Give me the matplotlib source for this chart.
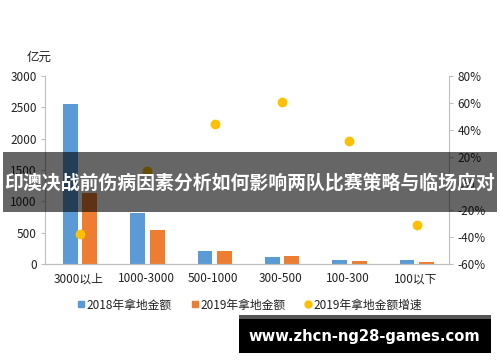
import matplotlib
matplotlib.use("Agg")
import matplotlib.pyplot as plt
from matplotlib.lines import Line2D
from matplotlib.patches import Rectangle
from matplotlib.ticker import FuncFormatter, MultipleLocator
import numpy as np

plt.rcParams['font.family'] = ['Noto Sans CJK SC', 'DejaVu Sans']
plt.rcParams['axes.unicode_minus'] = False

categories = ["3000以上", "1000-3000", "500-1000", "300-500", "100-300", "100以下"]
amount_2018 = [2550, 810, 205, 110, 60, 60]
amount_2019 = [1135, 550, 215, 120, 40, 30]
growth_2019 = [-0.38, 0.09, 0.44, 0.61, 0.315, -0.31]
series_names = ["2018年拿地金额", "2019年拿地金额", "2019年拿地金额增速"]
banner_text = "印澳决战前伤病因素分析如何影响两队比赛策略与临场应对"
watermark_text = "www.zhcn-ng28-games.com"

blue = "#5B9BD5"
orange = "#ED7D31"
yellow = "#FFC000"
axis_gray = "#BFBFBF"
label_color = "#222222"

W, H = 500, 362
fig = plt.figure(figsize=(5.0, 3.62), dpi=100)
ax = fig.add_axes([45 / W, 1 - 264 / H, (449 - 45) / W, (264 - 76) / H])
ax2 = ax.twinx()

x = np.arange(len(categories)) + 0.02
bw = 0.22
ax.bar(x - 0.145, amount_2018, width=bw, color=blue, zorder=2)
ax.bar(x + 0.145, amount_2019, width=bw, color=orange, zorder=2)
ax2.plot(x, growth_2019, linestyle='none', marker='o', markersize=6,
         color=yellow, markeredgecolor=yellow, zorder=3)

ax.set_xlim(-0.5, len(categories) - 0.5)
ax.set_ylim(0, 3000)
ax.yaxis.set_major_locator(MultipleLocator(500))
ax2.set_ylim(-0.6, 0.8)
ax2.yaxis.set_major_locator(MultipleLocator(0.2))
ax2.yaxis.set_major_formatter(FuncFormatter(lambda v, p: f"{round(v * 100):d}%"))

ax.set_xticks(np.arange(len(categories)))
ax.set_xticklabels(categories)

for a in (ax, ax2):
    a.spines['top'].set_visible(False)
    a.spines['left'].set_color(axis_gray)
    a.spines['right'].set_color(axis_gray)
    a.spines['bottom'].set_color(axis_gray)
ax.spines['right'].set_visible(False)
ax2.spines['left'].set_visible(False)

ax.tick_params(axis='y', labelsize=8.5, length=3, color=axis_gray, labelcolor=label_color, pad=3)
ax.tick_params(axis='x', length=0, labelsize=8.5, labelcolor=label_color, pad=6)
ax2.tick_params(axis='y', labelsize=8.5, length=3, color=axis_gray, labelcolor=label_color, pad=3)

fig.text(27 / W, 1 - 57 / H, "亿元", fontsize=9, color=label_color, va='center', ha='left')

handles = [
    Line2D([], [], linestyle='none', marker='s', markersize=5, color=blue),
    Line2D([], [], linestyle='none', marker='s', markersize=5, color=orange),
    Line2D([], [], linestyle='none', marker='o', markersize=5, color=yellow),
]
fig.legend(handles, series_names, loc='center', bbox_to_anchor=(0.5, 1 - 305 / H),
           ncol=3, frameon=False, fontsize=8.5, handlelength=0.6, handletextpad=0.2,
           columnspacing=1.6, labelcolor=label_color)

# dark banner overlay
fig.patches.append(Rectangle((3 / W, 1 - 212 / H), 494 / W, 60 / H,
                             transform=fig.transFigure, facecolor='black',
                             alpha=0.6, edgecolor='none', zorder=10))
fig.text(0.5, 1 - 183 / H, banner_text, fontsize=13.6, fontweight='bold',
         color='white', ha='center', va='center', zorder=11)

# watermark box
fig.patches.append(Rectangle((239 / W, 1 - 319 / H), 252 / W, 4 / H,
                             transform=fig.transFigure, facecolor='#555555',
                             edgecolor='none', zorder=10))
fig.patches.append(Rectangle((239 / W, 1 - 353 / H), 252 / W, 34 / H,
                             transform=fig.transFigure, facecolor='black',
                             edgecolor='none', zorder=10))
fig.text(364 / W, 1 - 336 / H, watermark_text, fontsize=10.6, fontweight='bold',
         color='white', ha='center', va='center', zorder=11,
         family=['DejaVu Sans'])

fig.savefig("out.png", dpi=100, facecolor='white')
